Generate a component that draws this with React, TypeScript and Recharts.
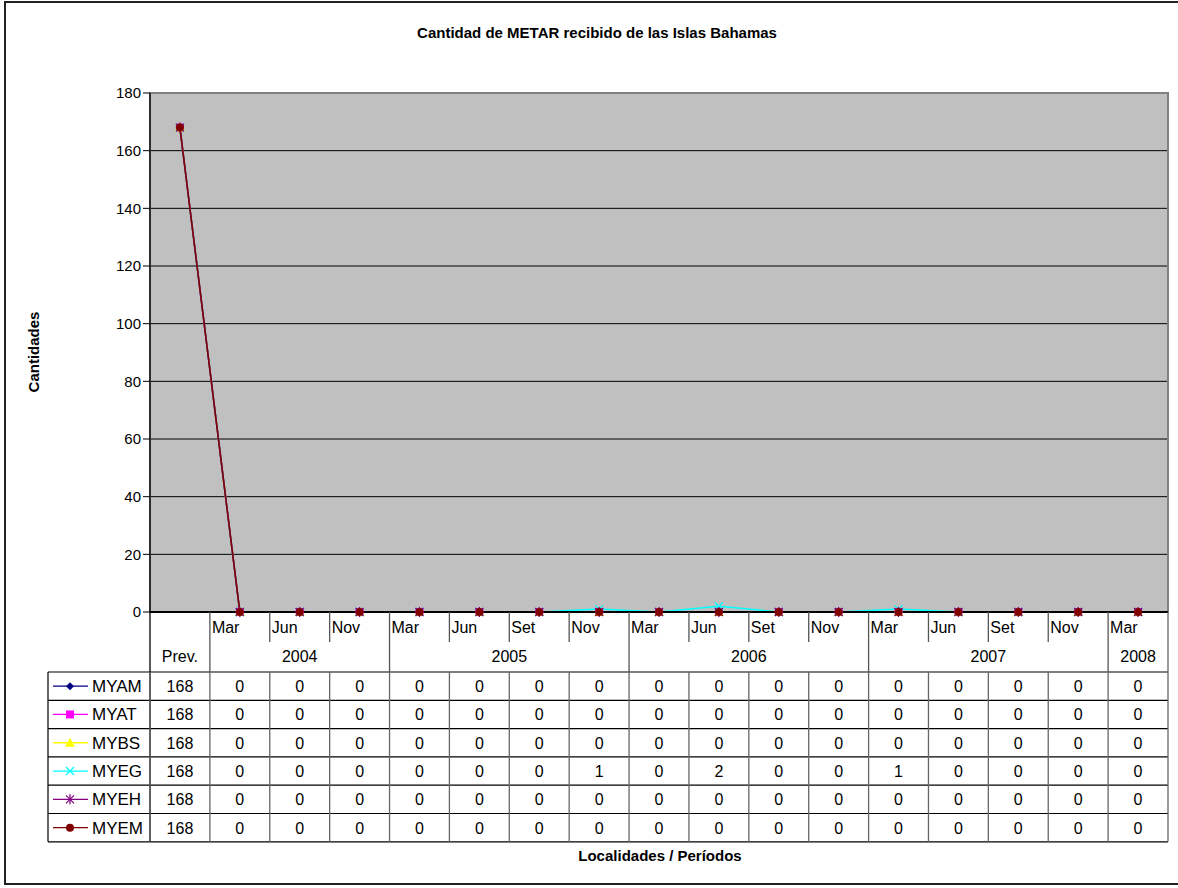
import { CartesianGrid, Line, LineChart, ReferenceArea, XAxis, YAxis } from "recharts";

const FONT = "'Liberation Sans', Arial, sans-serif";

const months = ["", "Mar", "Jun", "Nov", "Mar", "Jun", "Set", "Nov", "Mar", "Jun", "Set", "Nov", "Mar", "Jun", "Set", "Nov", "Mar"];
const years = ["Prev.", "2004", "2004", "2004", "2005", "2005", "2005", "2005", "2006", "2006", "2006", "2006", "2007", "2007", "2007", "2007", "2008"];
const yTicks = [0, 20, 40, 60, 80, 100, 120, 140, 160, 180];

const MYAM = [168, 0, 0, 0, 0, 0, 0, 0, 0, 0, 0, 0, 0, 0, 0, 0, 0];
const MYAT = [168, 0, 0, 0, 0, 0, 0, 0, 0, 0, 0, 0, 0, 0, 0, 0, 0];
const MYBS = [168, 0, 0, 0, 0, 0, 0, 0, 0, 0, 0, 0, 0, 0, 0, 0, 0];
const MYEG = [168, 0, 0, 0, 0, 0, 0, 1, 0, 2, 0, 0, 1, 0, 0, 0, 0];
const MYEH = [168, 0, 0, 0, 0, 0, 0, 0, 0, 0, 0, 0, 0, 0, 0, 0, 0];
const MYEM = [168, 0, 0, 0, 0, 0, 0, 0, 0, 0, 0, 0, 0, 0, 0, 0, 0];

type Shape = "diamond" | "square" | "triangle" | "x" | "star" | "circle";
const SERIES: { name: string; values: number[]; color: string; shape: Shape }[] = [
  { name: "MYAM", values: MYAM, color: "#000080", shape: "diamond" },
  { name: "MYAT", values: MYAT, color: "#FF00FF", shape: "square" },
  { name: "MYBS", values: MYBS, color: "#FFFF00", shape: "triangle" },
  { name: "MYEG", values: MYEG, color: "#00FFFF", shape: "x" },
  { name: "MYEH", values: MYEH, color: "#800080", shape: "star" },
  { name: "MYEM", values: MYEM, color: "#800000", shape: "circle" },
];

const data = months.map((m, i) => {
  const row: Record<string, number | string> = { id: `c${i}`, month: m, year: years[i] };
  SERIES.forEach((s) => (row[s.name] = s.values[i]));
  return row;
});

const W = 1178;
const H = 888;
const PLOT_LEFT = 150;
const PLOT_RIGHT = 1168;
const BW = (PLOT_RIGHT - PLOT_LEFT) / months.length;
const ROW_H = 28.3;
const TABLE_TOP = 60; // relative to the axis line
const LEGEND_LEFT = 48;

function Marker({ cx, cy, shape, color }: { cx: number; cy: number; shape: Shape; color: string }) {
  const r = 4;
  switch (shape) {
    case "diamond":
      return <polygon points={`${cx},${cy - r} ${cx + r},${cy} ${cx},${cy + r} ${cx - r},${cy}`} fill={color} />;
    case "square":
      return <rect x={cx - r} y={cy - r} width={2 * r} height={2 * r} fill={color} />;
    case "triangle":
      return <polygon points={`${cx},${cy - r - 1} ${cx + r + 1},${cy + r} ${cx - r - 1},${cy + r}`} fill={color} />;
    case "x":
      return (
        <g stroke={color} strokeWidth={1.3}>
          <line x1={cx - r} y1={cy - r} x2={cx + r} y2={cy + r} />
          <line x1={cx - r} y1={cy + r} x2={cx + r} y2={cy - r} />
        </g>
      );
    case "star":
      return (
        <g stroke={color} strokeWidth={1.3}>
          <line x1={cx - r} y1={cy - r} x2={cx + r} y2={cy + r} />
          <line x1={cx - r} y1={cy + r} x2={cx + r} y2={cy - r} />
          <line x1={cx} y1={cy - r - 1} x2={cx} y2={cy + r + 1} />
        </g>
      );
    default:
      return <circle cx={cx} cy={cy} r={r} fill={color} />;
  }
}

function ColumnTick(props: any) {
  const { x, y, payload } = props;
  const i: number = props.index ?? payload.index;
  const lx = x - BW / 2;
  const yearStart = i === 0 || years[i] !== years[i - 1];
  const groupSize = years.filter((yy) => yy === years[i]).length;
  const bottom = y + TABLE_TOP + ROW_H * SERIES.length;
  return (
    <g fontFamily={FONT} fontSize={16} fill="#000">
      {i === 0 && (
        <g>
          {Array.from({ length: SERIES.length + 1 }, (_, r) => (
            <line
              key={r}
              x1={LEGEND_LEFT}
              x2={PLOT_RIGHT}
              y1={y + TABLE_TOP + r * ROW_H}
              y2={y + TABLE_TOP + r * ROW_H}
              stroke="#000"
              strokeWidth={1.2}
            />
          ))}
          <line x1={LEGEND_LEFT} x2={LEGEND_LEFT} y1={y + TABLE_TOP} y2={bottom} stroke="#000" strokeWidth={1.2} />
          {SERIES.map((s, r) => {
            const cy = y + TABLE_TOP + r * ROW_H + ROW_H / 2;
            return (
              <g key={s.name}>
                <line x1={53} x2={88} y1={cy} y2={cy} stroke={s.color} strokeWidth={1.3} />
                <Marker cx={70} cy={cy} shape={s.shape} color={s.color} />
                <text x={92} y={cy + 6} fontSize={17} fill="#000">
                  {s.name}
                </text>
              </g>
            );
          })}
        </g>
      )}
      {months[i] && (
        <>
          <line x1={lx} x2={lx} y1={y} y2={y + (yearStart ? TABLE_TOP : 30)} stroke="#555" strokeWidth={1.3} />
          <text x={lx + 2} y={y + 21} textAnchor="start">
            {months[i]}
          </text>
        </>
      )}
      {i === 0 && <line x1={lx} x2={lx} y1={y} y2={bottom} stroke="#000" strokeWidth={1.3} />}
      {yearStart && (
        <text x={lx + (groupSize * BW) / 2} y={y + 50} textAnchor="middle">
          {years[i]}
        </text>
      )}
      <line x1={lx} x2={lx} y1={y + TABLE_TOP} y2={bottom} stroke="#666" strokeWidth={1.3} />
      {i === months.length - 1 && (
        <line x1={lx + BW} x2={lx + BW} y1={y} y2={bottom} stroke="#666" strokeWidth={1.3} />
      )}
      {SERIES.map((s, r) => (
        <text key={s.name} x={x} y={y + TABLE_TOP + r * ROW_H + 20} textAnchor="middle">
          {s.values[i]}
        </text>
      ))}
    </g>
  );
}

export default function App() {
  return (
    <div
      style={{
        position: "fixed",
        left: 0,
        top: 0,
        width: W,
        height: H,
        overflow: "hidden",
        background: "#fff",
        fontFamily: FONT,
      }}
    >
      <style>{`html, body { margin: 0; overflow: hidden; }`}</style>
      <svg width={W} height={H} style={{ position: "absolute", left: 0, top: 0 }}>
        <polyline points={`${W + 10},2 5,2 5,884 ${W + 10},884`} fill="none" stroke="#222" strokeWidth={2} />
      </svg>
      <div style={{ position: "absolute", left: 0, top: 24, width: W + 16, textAlign: "center", fontWeight: "bold", fontSize: 15 }}>
        Cantidad de METAR recibido de las Islas Bahamas
      </div>
      <div
        style={{
          position: "absolute",
          left: 33,
          top: 352,
          transform: "translate(-50%, -50%) rotate(-90deg)",
          fontWeight: "bold",
          fontSize: 15,
          whiteSpace: "nowrap",
        }}
      >
        Cantidades
      </div>
      <div style={{ position: "absolute", left: 0, top: 847, width: 1320, textAlign: "center", fontWeight: "bold", fontSize: 15 }}>
        Localidades / Períodos
      </div>
      <LineChart
        width={W}
        height={H}
        data={data}
        margin={{ top: 93, right: W - PLOT_RIGHT, left: PLOT_LEFT - 60, bottom: 46 }}
        style={{ position: "absolute", left: 0, top: 0 }}
      >
        <CartesianGrid horizontal vertical={false} stroke="#000" fill="#C0C0C0" fillOpacity={1} />
        <ReferenceArea y1={0} y2={180} fill="none" stroke="#808080" strokeWidth={2} ifOverflow="visible" />
        <XAxis
          dataKey="id"
          scale="band"
          interval={0}
          height={230}
          tickSize={0}
          tickMargin={0}
          tickLine={false}
          axisLine={{ stroke: "#000", strokeWidth: 2 }}
          tick={(p: any) => <ColumnTick {...p} />}
        />
        <YAxis
          width={60}
          domain={[0, 180]}
          ticks={yTicks}
          interval={0}
          axisLine={{ stroke: "#000", strokeWidth: 1.3 }}
          tickLine={{ stroke: "#000" }}
          tickSize={7}
          tick={{ fill: "#000", fontSize: 15, fontFamily: FONT }}
        />
        {SERIES.map((s) => (
          <Line
            key={s.name}
            dataKey={s.name}
            stroke={s.color}
            strokeWidth={1.5}
            isAnimationActive={false}
            activeDot={false}
            dot={(p: any) => <Marker key={`${s.name}-${p.index}`} cx={p.cx} cy={p.cy} shape={s.shape} color={s.color} />}
          />
        ))}
      </LineChart>
    </div>
  );
}
